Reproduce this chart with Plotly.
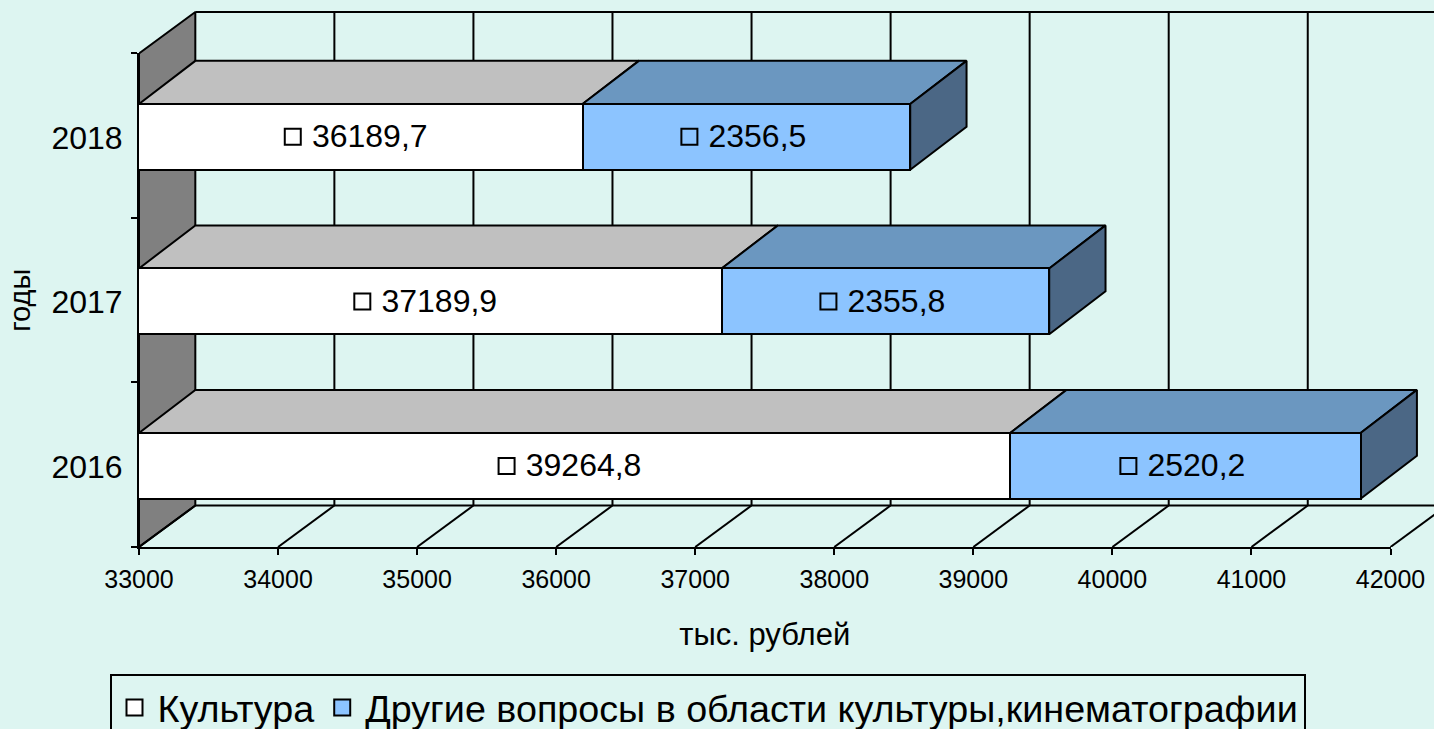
import plotly.graph_objects as go

years = ["2016", "2017", "2018"]
kultura = [39264.8, 37189.9, 36189.7]
drugie = [2520.2, 2355.8, 2356.5]
kultura_labels = ["39264,8", "37189,9", "36189,7"]
drugie_labels = ["2520,2", "2355,8", "2356,5"]
x_ticks = [33000, 34000, 35000, 36000, 37000, 38000, 39000, 40000, 41000, 42000]

BG = "#DDF5F1"
BLUE = "#8CC4FF"
BLUE_TOP = "#6B97C0"
BLUE_SIDE = "#4B6785"
GREY_TOP = "#C0C0C0"
WALL = "#808080"
FONT = "Liberation Sans"

# page layout of the front plane
W, H = 1434, 729
LEFT, RIGHT, TOP, BOTTOM = 139.0, 1390.5, 53.5, 547.5
PAD_TOP = 8.0  # room above the front plane for the depth faces

# 3-D projection of the depth axis, in axis units
DX = 405
DY = 0.252
BAR_DY = 0.262
BAR_W = 0.4
BAR_SHIFT = -0.007
XMIN, XMAX = x_ticks[0], x_ticks[-1]
YMIN, YMAX = -0.5, 2.5
PX = (XMAX - XMIN) / (RIGHT - LEFT)  # data units per pixel on x
PY = (YMAX - YMIN) / (BOTTOM - TOP)  # data units per pixel on y
X_FULL = XMIN + (W - LEFT) * PX
Y_FULL = YMIN + (BOTTOM - PAD_TOP) * PY
DOM_X = [0, (RIGHT - LEFT) / (W - LEFT)]
DOM_Y = [0, (BOTTOM - TOP) / (BOTTOM - PAD_TOP)]

fig = go.Figure()


def poly(xs, ys, fill):
    fig.add_trace(go.Scatter(x=xs, y=ys, mode="lines", fill="toself", fillcolor=fill,
                             line=dict(color="black", width=2), hoverinfo="skip",
                             showlegend=False, xaxis="x", yaxis="y"))


def seg(xs, ys):
    fig.add_trace(go.Scatter(x=xs, y=ys, mode="lines", line=dict(color="black", width=2),
                             hoverinfo="skip", showlegend=False, xaxis="x", yaxis="y"))


# back wall, floor
poly([XMIN, XMIN + DX, XMIN + DX, XMIN, XMIN],
     [YMIN, YMIN + DY, YMAX + DY, YMAX, YMIN], WALL)
for t in x_ticks:
    seg([t, t + DX], [YMIN, YMIN + DY])
    if t > XMIN:
        seg([t + DX, t + DX], [YMIN + DY, YMAX + DY])
seg([XMIN + DX, XMAX + DX], [YMIN + DY, YMIN + DY])
seg([XMIN + DX, XMAX + DX], [YMAX + DY, YMAX + DY])

# top and side faces of the bars
for i in range(len(years)):
    a, b = kultura[i], kultura[i] + drugie[i]
    top = i + BAR_SHIFT + BAR_W / 2
    bot = i + BAR_SHIFT - BAR_W / 2
    poly([XMIN, a, a + DX, XMIN + DX, XMIN], [top, top, top + BAR_DY, top + BAR_DY, top], GREY_TOP)
    poly([a, b, b + DX, a + DX, a], [top, top, top + BAR_DY, top + BAR_DY, top], BLUE_TOP)
    poly([b, b + DX, b + DX, b, b], [bot, bot + BAR_DY, top + BAR_DY, top, bot], BLUE_SIDE)

# front faces
for vals, col in ((kultura, "white"), (drugie, BLUE)):
    fig.add_trace(go.Bar(y=years, x=vals, orientation="h", width=BAR_W,
                         offset=BAR_SHIFT - BAR_W / 2, xaxis="x2", yaxis="y2", showlegend=False,
                         marker=dict(color=col, line=dict(color="black", width=2))))

# data labels with legend keys
ypos = [i + BAR_SHIFT for i in range(len(years))]
ytext = [v - 2.5 * PY for v in ypos]
x1 = [(XMIN + v) / 2 for v in kultura]
x2 = [k + d / 2 for k, d in zip(kultura, drugie)]
for name, xc, txt, col, tshift, mshift in (
    ("Культура", x1, kultura_labels, "white", 9, -68),
    ("Другие вопросы в области культуры,кинематографии", x2, drugie_labels, BLUE, 11, -57),
):
    fig.add_trace(go.Scatter(x=[v + mshift * PX for v in xc], y=ypos, mode="markers", name=name,
                             marker=dict(symbol="square", size=16, color=col,
                                         line=dict(color="black", width=2)),
                             xaxis="x2", yaxis="y3", cliponaxis=False))
    fig.add_trace(go.Scatter(x=[v + tshift * PX for v in xc], y=ytext, mode="text", text=txt,
                             textposition="middle center",
                             textfont=dict(family=FONT, size=32, color="black"),
                             xaxis="x2", yaxis="y3", showlegend=False, cliponaxis=False))

fig.update_layout(
    width=W, height=H,
    paper_bgcolor=BG, plot_bgcolor="rgba(0,0,0,0)",
    barmode="stack",
    margin=dict(l=LEFT, r=0, t=PAD_TOP, b=H - BOTTOM, autoexpand=False),
    font=dict(family=FONT, color="black"),
    # wide hidden axes carry the depth faces, which run past the front plane
    xaxis=dict(domain=[0, 1], range=[XMIN, X_FULL], visible=False),
    yaxis=dict(domain=[0, 1], range=[YMIN, Y_FULL], visible=False),
    # front-plane axes
    xaxis2=dict(domain=DOM_X, anchor="y2", range=[XMIN, XMAX], tickvals=x_ticks, tickformat="d",
                ticks="outside", ticklen=6, tickwidth=2,
                tickcolor="black", showline=True, linecolor="black", linewidth=2, showgrid=False,
                zeroline=False, tickfont=dict(size=25), ticklabelstandoff=3,
                title=dict(text="тыс. рублей", font=dict(size=31), standoff=31)),
    yaxis2=dict(domain=DOM_Y, anchor="x2", type="category", categoryorder="array",
                categoryarray=years, side="left", range=[YMIN, YMAX], tickson="boundaries",
                ticks="outside", ticklen=6, tickwidth=2, tickcolor="black", showline=True,
                linecolor="black", linewidth=2, showgrid=False, zeroline=False,
                tickfont=dict(size=32), ticklabelstandoff=8, ticklabelshift=2,
                title=dict(text="годы", font=dict(size=29), standoff=12)),
    yaxis3=dict(range=[YMIN, YMAX], overlaying="y2", anchor="x2", visible=False),
    legend=dict(orientation="h", x=(109.5 - LEFT) / (W - LEFT), y=(BOTTOM - 675) / (BOTTOM - PAD_TOP),
                xanchor="left", yanchor="top", itemwidth=36,
                bgcolor=BG, bordercolor="black", borderwidth=2,
                font=dict(size=37.7, family=FONT), traceorder="normal"),
)

fig.write_html(
    "out.html",
    config={"displayModeBar": False},
    post_script="document.body.style.margin='0';document.body.style.overflow='hidden';"
                "document.body.style.background='" + BG + "';",
)
